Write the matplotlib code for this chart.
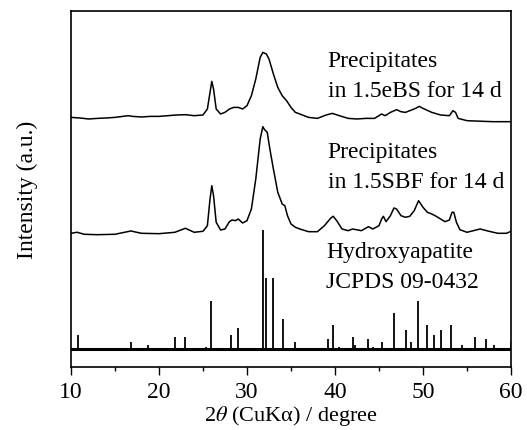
import numpy as np
import matplotlib
matplotlib.use('Agg')
import matplotlib.pyplot as plt

plt.rcParams['font.family'] = ['Liberation Serif', 'DejaVu Serif']
plt.rcParams['mathtext.fontset'] = 'stix'

# XRD pattern of precipitates in 1.5eBS (height above its own baseline, a.u.)
ebs_2theta = [10.0, 11, 12, 13, 14, 15, 16.5, 17, 18, 19, 20, 21, 22, 23, 24, 25.0,
              25.5, 25.8, 26.0, 26.2, 26.5, 27.0, 27.5, 28.0, 28.5, 29.0, 29.5, 30.0,
              30.5, 31.0, 31.5, 31.8, 32.2, 32.5, 33.0, 33.5, 34.0, 34.5, 35.0, 35.5,
              36.0, 37, 38, 39, 39.7, 40.5, 41.5, 42.5, 43.5, 44.5, 45.3, 45.7, 46.3,
              47.0, 47.5, 48.0, 49.0, 49.6, 50.0, 51, 52, 53.0, 53.4, 53.7, 54.0, 55,
              57, 58, 60]
ebs_int = [4.3, 3.7, 2.7, 3.3, 3.7, 4.3, 6, 5.3, 4.7, 5.3, 5.3, 6, 6.7, 7, 6, 6.7,
           12.7, 29.3, 40.3, 32.7, 12.7, 7.7, 9.3, 12.7, 14.3, 14.3, 12.7, 16,
           26, 42.7, 64.3, 69.3, 67.7, 62.7, 47.7, 34.3, 26, 21, 14.3, 9.3,
           7.7, 4.3, 3.3, 6.7, 8.3, 6, 3.3, 2.7, 3.3, 3.3, 7.7, 6, 9.3,
           12, 10, 9.3, 12.7, 15.3, 13.3, 9.3, 6.7, 6, 11, 9.3, 3.3, 1,
           0.3, 0, 0]

# XRD pattern of precipitates in 1.5SBF
sbf_2theta = [10.0, 10.7, 11.5, 13, 15, 16.8, 18, 20, 21.8, 23.0, 24, 25.0, 25.5,
              25.8, 26.0, 26.2, 26.5, 27.0, 27.5, 28.0, 28.3, 28.7, 29.0, 29.5, 30.0,
              30.5, 31.0, 31.5, 31.8, 32.0, 32.3, 32.6, 33.0, 33.5, 34.0, 34.3, 34.6,
              35.0, 35.5, 36.0, 37, 38, 38.8, 39.5, 39.8, 40.2, 40.8, 41.5, 42.0, 43.0,
              43.8, 44.3, 45.0, 45.3, 45.5, 45.8, 46.3, 46.7, 47.0, 47.5, 48.0, 48.5,
              49.0, 49.5, 50.0, 50.5, 51.0, 51.5, 52.0, 52.5, 53.0, 53.3, 53.5, 53.8,
              54.2, 55, 56.5, 57.5, 58.5, 59.5, 60]
sbf_int = [0.7, 1.7, -0.3, -0.7, -0.3, 3, 0.7, 0.3, 1.7, 5.7, 1.7, 2.7, 8.3,
           35, 48.3, 38.3, 11.7, 4, 5, 12.3, 14, 13.3, 15, 11, 13.3,
           25, 55, 95, 107.3, 104.3, 101.7, 85, 65, 41.7, 30, 28.3, 18.3,
           10, 6.7, 5, 2.3, 2.3, 8.3, 15.7, 17.7, 13.3, 5, 3.3, 5, 3.3,
           7.3, 5, 8.3, 15, 17.7, 12.3, 18.3, 26, 25, 18.3, 16.7, 17.7,
           23.3, 33.3, 26.7, 21.7, 20, 17.7, 15, 12.3, 14, 21.7, 21.7, 11.7,
           4.3, 1.7, 5, 2.7, 0.7, 0.7, 2.7]

# Hydroxyapatite JCPDS 09-0432 reference lines (relative intensity)
hap_2theta = [10.82, 16.84, 18.78, 21.82, 22.90, 25.35, 25.88, 28.13, 28.97, 31.77,
              32.20, 32.90, 34.05, 35.48, 39.20, 39.82, 40.45, 42.03, 42.32, 43.80,
              44.37, 45.31, 46.71, 48.10, 48.62, 49.47, 50.49, 51.28, 52.10, 53.14,
              54.44, 55.88, 57.13, 58.07, 60.0]
hap_int = [12, 6, 3, 10, 10, 2, 40, 12, 18, 100,
           60, 60, 25, 6, 8, 20, 2, 10, 3, 8,
           2, 6, 30, 16, 6, 40, 20, 12, 16, 20,
           3, 10, 8, 3, 6]

labels = [('Precipitates', 'in 1.5eBS for 14 d'),
          ('Precipitates', 'in 1.5SBF for 14 d'),
          ('Hydroxyapatite', 'JCPDS 09-0432')]

fig = plt.figure(figsize=(5.27, 4.31), dpi=100)
ax = fig.add_axes([0.1347, 0.1462, 0.8349, 0.826])

ax.vlines(hap_2theta, 0, np.array(hap_int) * 1.19, colors='k', lw=1.3)
ax.axhline(0, color='k', lw=2.2)
ax.plot(sbf_2theta, np.array(sbf_int) + 115, color='k', lw=1.1)
ax.plot(ebs_2theta, np.array(ebs_int) + 227.3, color='k', lw=1.1)

# label positions (x, first-line baseline) in data coords
label_pos = [(39.15, 283), (39.15, 192), (39.0, 92)]
for (l1, l2), (x, y) in zip(labels, label_pos):
    ax.text(x, y, l1, fontsize=17, va='baseline', ha='left')
    ax.text(x, y - 30, l2, fontsize=17, va='baseline', ha='left')

ax.set_xlim(10, 60)
ax.set_ylim(-18, 338)
ax.set_xticks([10, 20, 30, 40, 50, 60])
ax.set_xticks(np.arange(15, 60, 10), minor=True)
ax.set_yticks([])
ax.tick_params(axis='x', which='major', direction='out', length=6, width=1, labelsize=17, pad=4)
ax.tick_params(axis='x', which='minor', direction='out', length=3, width=1)
for s in ax.spines.values():
    s.set_linewidth(1.2)

ax.set_xlabel(r'2$\theta$ (CuKα) / degree', fontsize=16, labelpad=1)
ax.set_ylabel('Intensity (a.u.)', fontsize=17, labelpad=24)

fig.savefig('out.png', dpi=100)
